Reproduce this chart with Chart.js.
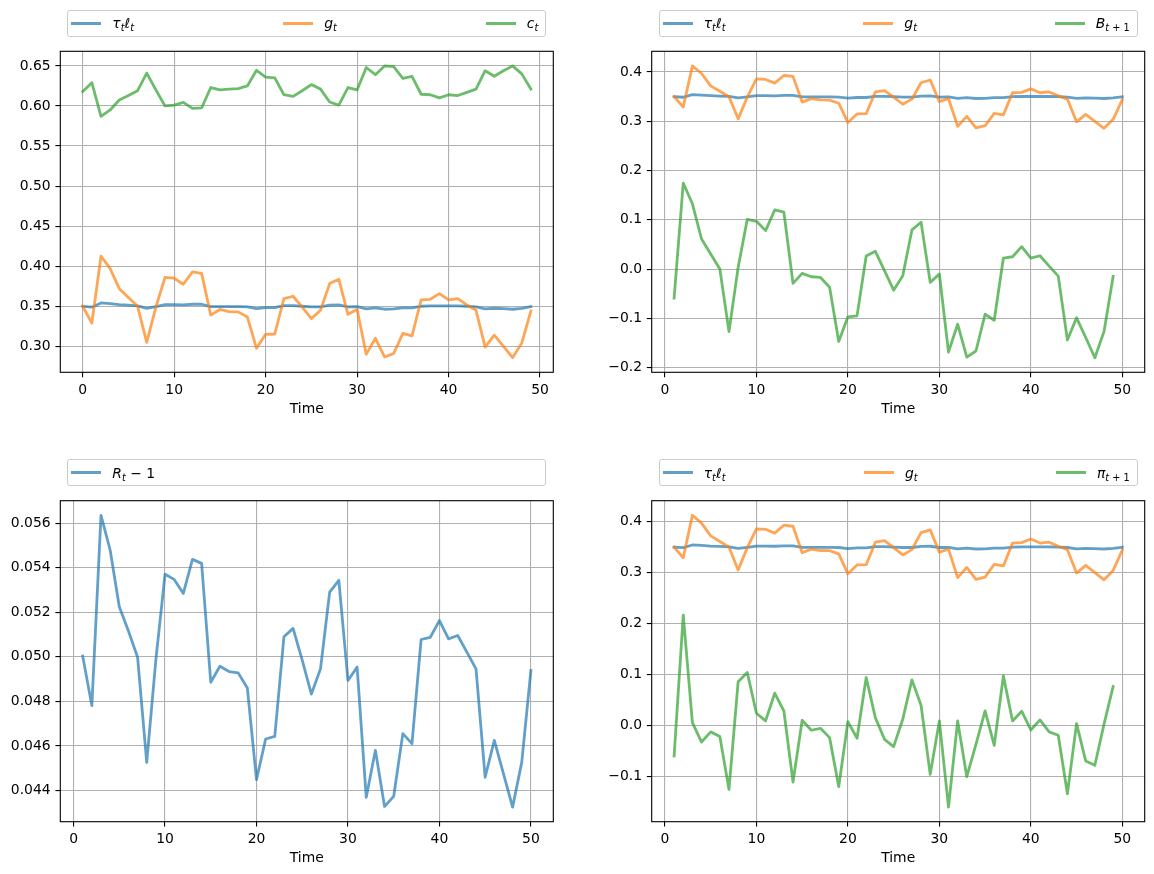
<!DOCTYPE html>
<html>
<head>
<meta charset="utf-8">
<title>Simulated paths</title>
<script src="https://cdn.jsdelivr.net/npm/chart.js@4.4.1/dist/chart.umd.min.js"></script>
<style>
  html, body { margin: 0; padding: 0; background: #fff; }
  body { width: 1154px; height: 874px; position: relative; overflow: hidden; font-family: "DejaVu Sans", sans-serif; }
  canvas { position: absolute; }
  .legend { position: absolute; box-sizing: border-box; border: 1px solid #cccccc; border-radius: 3px;
            background: rgba(255,255,255,0.8); display: flex; justify-content: space-between; align-items: center;
            padding: 0 7px 0 3px; font-size: 13.9px; color: #000; z-index: 2; }
  .item { display: flex; align-items: center; white-space: nowrap; }
  .swatch { width: 30px; height: 2.8px; margin-right: 11px; }
  .lab i { font-style: oblique; }
  .lab sub { font-size: 70%; vertical-align: -0.3em; line-height: 0; }
</style>
</head>
<body>
<canvas id="c1"></canvas>
<canvas id="c2"></canvas>
<canvas id="c3"></canvas>
<canvas id="c4"></canvas>
<script>
// tau_t * l_t, t = 0..49
const tauL = [0.3500, 0.3488, 0.3542, 0.3533, 0.3521, 0.3513, 0.3504, 0.3475, 0.3496, 0.3521,
              0.3521, 0.3517, 0.3525, 0.3525, 0.3496, 0.3496, 0.3496, 0.3496, 0.3492, 0.3471,
              0.3483, 0.3483, 0.3508, 0.3508, 0.3500, 0.3492, 0.3492, 0.3513, 0.3517, 0.3492,
              0.3496, 0.3467, 0.3479, 0.3463, 0.3467, 0.3479, 0.3479, 0.3500, 0.3504, 0.3504,
              0.3504, 0.3504, 0.3500, 0.3492, 0.3467, 0.3475, 0.3471, 0.3463, 0.3475, 0.3496];
// g_t
const gov = [0.350, 0.329, 0.4125, 0.397, 0.372, 0.361, 0.350, 0.305, 0.349, 0.386,
             0.385, 0.3775, 0.393, 0.391, 0.339, 0.346, 0.3433, 0.343, 0.3367, 0.2975,
             0.315, 0.3154, 0.3596, 0.3625, 0.349, 0.3346, 0.345, 0.3783, 0.3838, 0.340,
             0.346, 0.290, 0.310, 0.2867, 0.291, 0.3162, 0.313, 0.358, 0.3587, 0.3658,
             0.358, 0.3596, 0.3517, 0.345, 0.299, 0.314, 0.300, 0.2858, 0.304, 0.344];
// c_t
const cons = [0.618, 0.629, 0.587, 0.595, 0.6075, 0.613, 0.619, 0.641, 0.620, 0.600,
              0.601, 0.6045, 0.597, 0.5975, 0.623, 0.620, 0.621, 0.6217, 0.625, 0.6445,
              0.636, 0.635, 0.614, 0.612, 0.619, 0.6267, 0.621, 0.605, 0.601, 0.623,
              0.620, 0.648, 0.639, 0.650, 0.649, 0.6345, 0.637, 0.6146, 0.614, 0.610,
              0.614, 0.613, 0.617, 0.621, 0.644, 0.637, 0.644, 0.650, 0.640, 0.621];
// B_{t+1}, t = 1..49
const bond = [-0.059, 0.1746, 0.1325, 0.061, 0.0306, 0.0, -0.127, 0.0034, 0.101, 0.097,
              0.078, 0.120, 0.1155, -0.029, -0.0088, -0.0156, -0.017, -0.037, -0.147, -0.097,
              -0.095, 0.0265, 0.036, -0.003, -0.0428, -0.0136, 0.0795, 0.095, -0.027, -0.010,
              -0.1685, -0.112, -0.1787, -0.1664, -0.0917, -0.104, 0.0224, 0.025, 0.0455, 0.0224,
              0.027, 0.006, -0.0143, -0.144, -0.099, -0.139, -0.18, -0.127, -0.015];
// R_t - 1, t = 1..50
const rate = [0.05003, 0.04781, 0.05636, 0.0548, 0.05225, 0.05116, 0.04998, 0.04526, 0.04988, 0.05371,
              0.05348, 0.05285, 0.05438, 0.0542, 0.04886, 0.04958, 0.04934, 0.04928, 0.0486, 0.04448,
              0.04631, 0.04643, 0.0509, 0.05128, 0.04985, 0.04833, 0.04946, 0.05291, 0.05344, 0.04894,
              0.04954, 0.04369, 0.0458, 0.04328, 0.04373, 0.04655, 0.0461, 0.05078, 0.05088, 0.05163,
              0.05081, 0.05096, 0.05021, 0.04946, 0.04459, 0.04625, 0.04475, 0.04325, 0.04526, 0.04939];
// pi_{t+1}, t = 1..49
const infl = [-0.0604, 0.2165, 0.005, -0.033, -0.013, -0.022, -0.126, 0.0853, 0.1037, 0.0236,
              0.0085, 0.063, 0.028, -0.1115, 0.0098, -0.0098, -0.006, -0.0243, -0.1207, 0.0072,
              -0.0256, 0.0938, 0.015, -0.0276, -0.042, 0.0118, 0.0892, 0.0394, -0.0965, 0.0085,
              -0.1608, 0.0085, -0.101, -0.0374, 0.0282, -0.0394, 0.097, 0.0085, 0.0276, -0.0092,
              0.0105, -0.013, -0.0197, -0.1345, 0.0033, -0.070, -0.0787, 0.002, 0.0761];

const t0 = tauL.map((_, i) => i);      // 0..49
const t1 = tauL.map((_, i) => i + 1);  // 1..50

const BLUE = 'rgba(31,119,180,0.7)';
const ORANGE = 'rgba(255,127,14,0.7)';
const GREEN = 'rgba(44,160,44,0.7)';

const LAB_TAUL = '<i>τ</i><sub><i>t</i></sub><i>ℓ</i><sub><i>t</i></sub>';
const LAB_G = '<i>g</i><sub><i>t</i></sub>';
const LAB_C = '<i>c</i><sub><i>t</i></sub>';
const LAB_B = '<i>B</i><sub><i>t</i> + 1</sub>';
const LAB_R = '<i>R</i><sub><i>t</i></sub> − 1';
const LAB_PI = '<i>π</i><sub><i>t</i> + 1</sub>';

Chart.defaults.font.family = '"DejaVu Sans", sans-serif';

function series(xs, ys, color, order, html) {
  return { data: ys.map((y, i) => ({ x: xs[i], y: y })), borderColor: color, order: order, html: html };
}

// matplotlib style 5% margins
function lims(arrs) {
  const all = [].concat(...arrs);
  const lo = Math.min(...all), hi = Math.max(...all), r = hi - lo;
  return [lo - 0.05 * r, hi + 0.05 * r];
}

function fmt(d) {
  return v => (v < -1e-12 ? '\u2212' : '') + Math.abs(v).toFixed(d);
}

// draws the four spines
const frame = {
  id: 'frame',
  afterDatasetsDraw(chart) {
    const a = chart.chartArea, c = chart.ctx;
    c.save();
    c.strokeStyle = '#000';
    c.lineWidth = 1.1;
    c.strokeRect(a.left, a.top, a.right - a.left, a.bottom - a.top);
    c.restore();
  }
};

function makePanel(id, box, datasets, yStep, yDec) {
  const cv = document.getElementById(id);
  const cx = Math.floor(box.L) - 70, cy = Math.floor(box.T) - 30;
  const w = Math.ceil(box.R) + 30 - cx, h = Math.ceil(box.B) + 55 - cy;
  cv.width = w; cv.height = h;
  cv.style.left = cx + 'px'; cv.style.top = cy + 'px';
  cv.style.width = w + 'px'; cv.style.height = h + 'px';
  const yW = box.L - cx, xH = 45;

  const xr = lims(datasets.map(d => d.data.map(p => p.x)));
  const yr = lims(datasets.map(d => d.data.map(p => p.y)));
  const tickFont = { family: '"DejaVu Sans", sans-serif', size: 13.9 };
  const grid = { color: '#b0b0b0', lineWidth: 1.1, tickColor: '#000', tickWidth: 1.1, tickLength: 4.9 };

  new Chart(cv, {
    type: 'line',
    data: { datasets: datasets.map(d => ({
      data: d.data, borderColor: d.borderColor, order: d.order,
      borderWidth: 2.8, pointRadius: 0, tension: 0, fill: false,
      borderJoinStyle: 'round', borderCapStyle: 'square'
    })) },
    options: {
      responsive: false,
      animation: false,
      events: [],
      layout: { autoPadding: false,
        padding: { left: 0, top: box.T - cy, right: cx + w - box.R, bottom: cy + h - box.B - xH } },
      plugins: { legend: { display: false }, tooltip: { enabled: false } },
      scales: {
        x: {
          type: 'linear', min: xr[0], max: xr[1],
          afterFit: s => { s.height = xH; },
          border: { display: false },
          grid: grid,
          ticks: { stepSize: 10, includeBounds: false, autoSkip: false, maxRotation: 0,
                   color: '#000', padding: 4.8, font: tickFont, callback: v => String(v) },
          title: { display: true, text: 'Time', color: '#000', padding: 0,
                   font: { family: '"DejaVu Sans", sans-serif', size: 13.9, lineHeight: 1.2 } }
        },
        y: {
          type: 'linear', min: yr[0], max: yr[1],
          afterFit: s => { s.width = yW; },
          border: { display: false },
          grid: grid,
          ticks: { stepSize: yStep, includeBounds: false, autoSkip: false,
                   color: '#000', padding: 4.8, font: tickFont, callback: fmt(yDec) }
        }
      }
    },
    plugins: [frame]
  });

  // legend above the axes, stretched to its width
  const lg = document.createElement('div');
  lg.className = 'legend';
  Object.assign(lg.style, {
    left: (box.L + 7) + 'px', top: (box.T - 41.8) + 'px',
    width: (box.R - box.L - 14) + 'px', height: '27.4px'
  });
  datasets.forEach(d => {
    const it = document.createElement('div');
    it.className = 'item';
    it.innerHTML = '<span class="swatch" style="background:' + d.borderColor + '"></span><span class="lab">' + d.html + '</span>';
    lg.appendChild(it);
  });
  document.body.appendChild(lg);
}

const TL = { L: 60.3, T: 51.3, R: 553.3, B: 372.3 };
const TR = { L: 651.7, T: 51.3, R: 1144.7, B: 372.3 };
const BL = { L: 60.3, T: 500.7, R: 553.3, B: 821.7 };
const BR = { L: 651.7, T: 500.7, R: 1144.7, B: 821.7 };

makePanel('c1', TL, [
  series(t0, tauL, BLUE, 2, LAB_TAUL),
  series(t0, gov, ORANGE, 1, LAB_G),
  series(t0, cons, GREEN, 0, LAB_C)
], 0.05, 2);

makePanel('c2', TR, [
  series(t1, tauL, BLUE, 2, LAB_TAUL),
  series(t1, gov, ORANGE, 1, LAB_G),
  series(t1, bond, GREEN, 0, LAB_B)
], 0.1, 1);

makePanel('c3', BL, [
  series(t1, rate, BLUE, 0, LAB_R)
], 0.002, 3);

makePanel('c4', BR, [
  series(t1, tauL, BLUE, 2, LAB_TAUL),
  series(t1, gov, ORANGE, 1, LAB_G),
  series(t1, infl, GREEN, 0, LAB_PI)
], 0.1, 1);
</script>
</body>
</html>
